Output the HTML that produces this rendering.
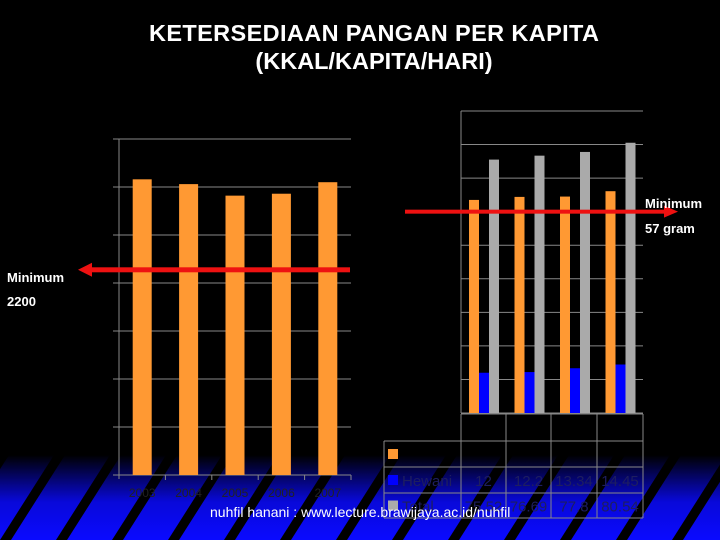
<!DOCTYPE html>
<html><head><meta charset="utf-8"><style>
html,body{margin:0;padding:0;background:#000;}
svg{display:block;font-family:"Liberation Sans",sans-serif;}
</style></head><body>
<svg id="c" width="720" height="540" viewBox="0 0 720 540">
<defs>
<linearGradient id="fade" x1="0" y1="0" x2="0" y2="1">
<stop offset="0" stop-color="#000" stop-opacity="1"/>
<stop offset="0.55" stop-color="#000" stop-opacity="0.15"/>
<stop offset="1" stop-color="#000" stop-opacity="0"/>
</linearGradient>
</defs>
<rect width="720" height="540" fill="#000"/>
<g id="bg">
<rect x="0" y="455" width="720" height="85" fill="#0a0aff"/>
</g>
<rect x="0" y="455" width="720" height="85" fill="url(#fade)"/>
<text x="374" y="41" text-anchor="middle" fill="#fff" font-size="23.5" font-weight="bold" textLength="450">KETERSEDIAAN PANGAN PER KAPITA</text>
<text x="374" y="69" text-anchor="middle" fill="#fff" font-size="23.5" font-weight="bold">(KKAL/KAPITA/HARI)</text>
<g id="left"></g>
<g id="right"></g>
<text x="7" y="282" fill="#fff" font-size="13" font-weight="bold">Minimum</text>
<text x="7" y="306" fill="#fff" font-size="13" font-weight="bold">2200</text>
<text x="645" y="208" fill="#fff" font-size="13" font-weight="bold">Minimum</text>
<text x="645" y="233" fill="#fff" font-size="13" font-weight="bold">57 gram</text>
<text x="210" y="517" fill="#fff" font-size="14">nuhfil hanani : www.lecture.brawijaya.ac.id/nuhfil</text>
</svg>
<script>
const NS="http://www.w3.org/2000/svg";
function mk(p,t,a){const e=document.createElementNS(NS,t);for(const k in a)e.setAttribute(k,a[k]);p.appendChild(e);return e;}
// stripes
const bg=document.getElementById('bg');
for(let i=-3;i<16;i++){
  const x0=i*56;
  const s=mk(bg,'polygon',{points:`${x0},540 ${x0+11},540 ${x0+11+54},455 ${x0+54},455`,fill:'#000'});
  
  
}
// Left chart data
const leftYears=["2003","2004","2005","2006","2007"];
const leftValues=[3080,3030,2910,2930,3050];
const leftTicks=[0,500,1000,1500,2000,2500,3000,3500];
const leftMinimum=2200;
const L=document.getElementById('left');
const lx0=119,lx1=351,ly0=475,ly1=139,lmax=3500;
const ly=v=>ly0-(v/lmax)*(ly0-ly1);
const lw=(lx1-lx0)/leftYears.length;
leftTicks.forEach(t=>{const g=mk(L,'line',{x1:lx0-6,x2:lx1,y1:ly(t),y2:ly(t),stroke:'#888','stroke-width':1});
});
mk(L,'line',{x1:lx0,x2:lx0,y1:ly1,y2:ly0+4,stroke:'#888'});
leftYears.forEach((y,i)=>{
  const cx=lx0+lw*(i+0.5);
  const b=mk(L,'rect',{x:cx-9.5,y:ly(leftValues[i]),width:19,height:ly0-ly(leftValues[i]),fill:'#ff9933'});
  
  
  mk(L,'line',{x1:lx0+lw*(i+1),x2:lx0+lw*(i+1),y1:ly0,y2:ly0+5,stroke:'#888'});
  const t=mk(L,'text',{x:cx,y:ly0+22,'text-anchor':'middle',fill:'#222','font-size':12});t.textContent=y;
  
});
const lmy=ly(leftMinimum)+6;
const la=mk(L,'g',{});

mk(la,'rect',{x:90,y:lmy-2.5,width:260,height:5,fill:'#ee1111'});
mk(la,'polygon',{points:`78,${lmy} 92,${lmy-7} 92,${lmy+7}`,fill:'#ee1111'});

// Right chart data
const rightCats=["2004","2005","2006","2007"];
const nabati=[63.5,64.4,64.5,66.1];
const hewani=[12.0,12.2,13.34,14.45];
const total=[75.52,76.69,77.8,80.54];
const rightTicks=[0,10,20,30,40,50,60,70,80,90];
const rightMinimum=60;
const hewaniLabels=["12","12.2","13.34","14.45"];
const totalLabels=["75.52","76.69","77.8","80.54"];
const R=document.getElementById('right');
const rx0=461,rx1=643,ry0=413,ry1=111,rmax=90;
const ry=v=>ry0-(v/rmax)*(ry0-ry1);
const rw=(rx1-rx0)/rightCats.length;
rightTicks.forEach(t=>{const g=mk(R,'line',{x1:rx0,x2:rx1,y1:ry(t),y2:ry(t),stroke:'#888'});
});
mk(R,'line',{x1:rx0,x2:rx0,y1:ry1,y2:ry0,stroke:'#888'});
const series=[[nabati,'#ff9933','nabati'],[hewani,'#0000ff','hewani'],[total,'#aaaaaa','total']];
rightCats.forEach((c,i)=>{
  const gx=rx0+rw*i+8;
  series.forEach((s,j)=>{
    const v=s[0][i];
    const b=mk(R,'rect',{x:gx+j*10,y:ry(v),width:10,height:ry0-ry(v),fill:s[1]});
    
    
  });
});
// table
const rows=[414,441,467,493,518];
const cols=[384,461,506,551,597,643];
const tb=mk(R,'g',{});

mk(tb,'line',{x1:rx0,x2:rx1,y1:rows[0],y2:rows[0],stroke:'#888'});
for(let r=1;r<rows.length;r++)mk(tb,'line',{x1:cols[0],x2:rx1,y1:rows[r],y2:rows[r],stroke:'#888'});
cols.forEach((x,k)=>mk(tb,'line',{x1:x,x2:x,y1:k==0?rows[1]:rows[0],y2:rows[4],stroke:'#888'}));
const legendNames=["Nabati","Hewani","Total"];
legendNames.forEach((n,r)=>{
  const yc=(rows[r+1]+rows[r+2])/2;
  const sw=mk(tb,'rect',{x:388,y:yc-5,width:10,height:10,fill:series[r][1]});
  
  const t=mk(tb,'text',{x:402,y:yc+6,fill:'#1e1e60','font-size':15});t.textContent=r==0?'':n;
  
});
[hewaniLabels,totalLabels].forEach((arr,r)=>{
  const yc=(rows[r+2]+rows[r+3])/2;
  arr.forEach((v,i)=>{const t=mk(tb,'text',{x:(cols[i+1]+cols[i+2])/2,y:yc+6,'text-anchor':'middle',fill:'#1e1e60','font-size':15});t.textContent=v;
  });
});
const rmy=ry(rightMinimum)+0;
const ra=mk(R,'g',{});

mk(ra,'rect',{x:405,y:rmy-2,width:262,height:4,fill:'#ee1111'});
mk(ra,'polygon',{points:`678,${rmy} 664,${rmy-6} 664,${rmy+6}`,fill:'#ee1111'});
</script>
</body></html>
